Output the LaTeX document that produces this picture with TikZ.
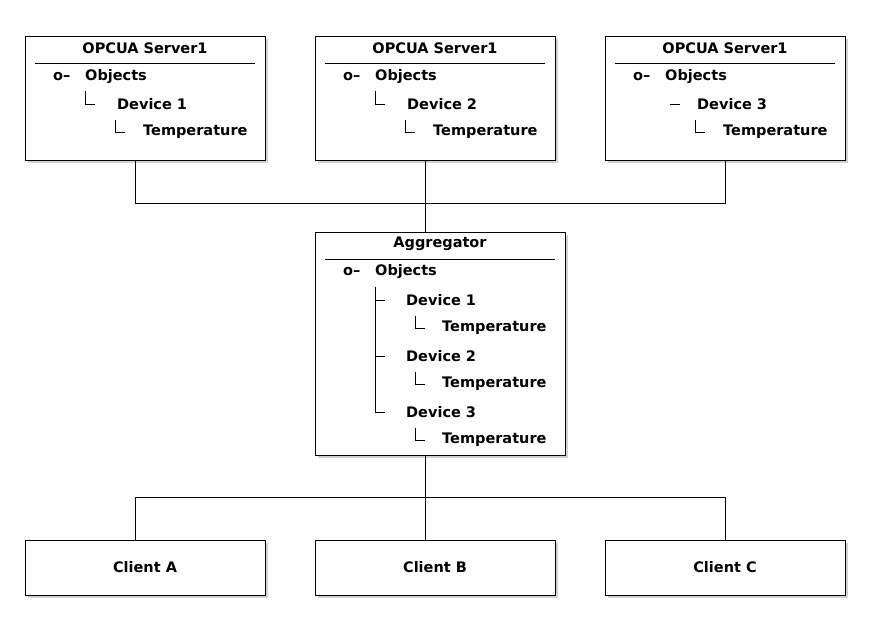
\documentclass[tikz,border=0pt]{standalone}
\usepackage{fontspec}
\setmainfont{DejaVu Sans}
\usetikzlibrary{shadows}

\begin{document}
\begin{tikzpicture}[x=1pt,y=-1pt]
    \tikzset{
        box/.style={draw, fill=white, line width=0.8pt,
            drop shadow={shadow xshift=3pt, shadow yshift=-3pt, fill=black!35}},
        txt/.style={anchor=west, inner sep=0pt, font=\fontsize{14.5}{16}\selectfont\bfseries},
        title/.style={txt, anchor=center},
        link/.style={line width=0.8pt},
    }
    \useasboundingbox (0,0) rectangle (890,630);

    % Servers
    \foreach \i/\dx/\cx in {1/0/135, 2/290/425, 3/580/725} {
        \draw[box] (25+\dx,36) rectangle (265+\dx,160);
        \node[title] at (145+\dx,48) {OPCUA Server1};
        \draw (35+\dx,63) -- (255+\dx,63);
        \node[txt] at (53+\dx,77) {o–};
        \node[txt] at (85+\dx,77) {Objects};
        \node[txt] at (117+\dx,104) {Device \i};
        \draw (115+\dx,120) |- (125+\dx,132);
        \node[txt] at (143+\dx,132) {Temperature};
        \coordinate (s\i) at (\cx,160);
    }
    \draw (85,91) |- (95,104);
    \draw (375,91) |- (385,104);
    \draw (670,104) -- (680,104);

    % Aggregator
    \draw[box] (315,232) rectangle (565,455);
    \node[title] at (440,244) {Aggregator};
    \draw (325,259) -- (555,259);
    \node[txt] at (343,272) {o–};
    \node[txt] at (375,272) {Objects};
    \draw (375,287) |- (385,412);
    \foreach \n/\y in {1/300, 2/356, 3/412} {
        \draw (375,\y) -- (385,\y);
        \node[txt] at (406,\y) {Device \n};
        \draw (415,\y+16) |- (425,\y+28);
        \node[txt] at (442,\y+28) {Temperature};
    }
    \coordinate (aggtop) at (425,232);
    \coordinate (aggbot) at (425,455);

    % Clients
    \foreach \c/\dx/\cx in {A/0/135, B/290/425, C/580/725} {
        \draw[box] (25+\dx,540) rectangle (265+\dx,595);
        \node[title] (cl\c) at (145+\dx,567) {Client \c};
        \coordinate (c\c) at (\cx,540);
    }

    % Links
    \draw[link] (s1) -- (135,203) -- (725,203) -- (s3);
    \draw[link] (s2) -- (aggtop);
    \draw[link] (aggbot) -- (425,497);
    \draw[link] (cA) -- (135,497) -- (725,497) -- (cC);
    \draw[link] (425,497) -- (cB);
\end{tikzpicture}
\end{document}
